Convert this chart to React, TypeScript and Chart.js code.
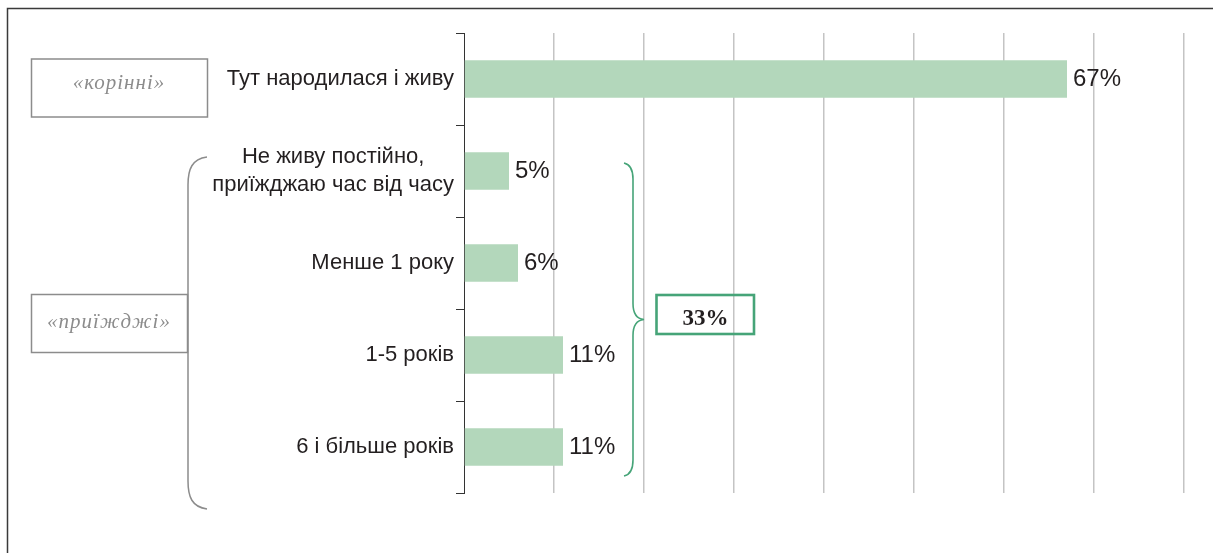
import React, { useEffect, useRef } from "react";
import { Chart, registerables } from "chart.js";

Chart.register(...registerables);

const categories: string[][] = [
  ["Тут народилася і живу"],
  ["Не живу постійно,", "приїжджаю час від часу"],
  ["Менше 1 року"],
  ["1-5 років"],
  ["6 і більше років"],
];
const values = [67, 5, 6, 11, 11];
const axisMax = 80;
const axisStep = 10;
const groupLabels = ["«корінні»", "«приїжджі»"];
const totalLabel = "33%";

const TEXT = "#231f20";
const BAR = "#b3d7bb";
const GREEN = "#46a478";
const GRAY = "#8c8c8c";
const LABEL_FONT = "22px 'Liberation Sans', Arial, sans-serif";
const LINE_H = 28;

const categoryLabelPlugin = {
  id: "categoryLabels",
  afterDraw(chart: any) {
    const ctx = chart.ctx;
    const y = chart.scales.y;
    const right = chart.chartArea.left - 10;
    ctx.save();
    ctx.font = LABEL_FONT;
    ctx.fillStyle = TEXT;
    ctx.textBaseline = "middle";
    categories.forEach((lines, i) => {
      const cy = y.getPixelForValue(i);
      const widths = lines.map((l) => ctx.measureText(l).width);
      const maxW = Math.max(...widths);
      const blockCenter = right - maxW / 2;
      const top = cy - ((lines.length - 1) * LINE_H) / 2;
      lines.forEach((l, j) => {
        if (lines.length === 1) {
          ctx.textAlign = "right";
          ctx.fillText(l, right, top);
        } else {
          ctx.textAlign = "center";
          ctx.fillText(l, blockCenter, top + j * LINE_H);
        }
      });
    });
    ctx.restore();
  },
};

const valueLabelPlugin = {
  id: "valueLabels",
  afterDatasetsDraw(chart: any) {
    const ctx = chart.ctx;
    const meta = chart.getDatasetMeta(0);
    ctx.save();
    ctx.font = "24px 'Liberation Sans', Arial, sans-serif";
    ctx.fillStyle = TEXT;
    ctx.textAlign = "left";
    ctx.textBaseline = "alphabetic";
    meta.data.forEach((bar: any, i: number) => {
      ctx.fillText(values[i] + "%", bar.x + 6, bar.y + 7);
    });
    ctx.restore();
  },
};

const annotationPlugin = {
  id: "annotations",
  afterDraw(chart: any) {
    const ctx = chart.ctx;
    const y = chart.scales.y;
    const c0 = y.getPixelForValue(0);
    const c1 = y.getPixelForValue(1);
    const c4 = y.getPixelForValue(4);
    ctx.save();

    // frame
    ctx.strokeStyle = "#3a3a3a";
    ctx.lineWidth = 1.5;
    ctx.beginPath();
    ctx.moveTo(7.5, 553);
    ctx.lineTo(7.5, 8.5);
    ctx.lineTo(1213, 8.5);
    ctx.stroke();

    // «корінні» box
    ctx.strokeStyle = GRAY;
    ctx.lineWidth = 1.5;
    ctx.strokeRect(31.5, c0 - 20, 176, 58);
    ctx.fillStyle = GRAY;
    ctx.font = "italic 21px 'Liberation Serif', 'Times New Roman', serif";
    try {
      (ctx as any).letterSpacing = "1px";
    } catch (e) {}
    ctx.textAlign = "center";
    ctx.textBaseline = "alphabetic";
    ctx.fillText(groupLabels[0], 119, c0 + 10);

    // left brace
    const bTop = c1 - 14;
    const bBot = c4 + 62;
    ctx.beginPath();
    ctx.moveTo(207, bTop);
    ctx.bezierCurveTo(192, bTop + 2, 188, bTop + 12, 188, bTop + 28);
    ctx.lineTo(188, bBot - 28);
    ctx.bezierCurveTo(188, bBot - 12, 192, bBot - 2, 207, bBot);
    ctx.stroke();

    // «приїжджі» box
    ctx.strokeRect(31.5, 294.5, 156, 58);
    ctx.fillText(groupLabels[1], 109, 328);
    try {
      (ctx as any).letterSpacing = "0px";
    } catch (e) {}

    // right green brace
    const rTop = c1 - 8;
    const rBot = c4 + 29;
    const mid = (rTop + rBot) / 2;
    ctx.strokeStyle = GREEN;
    ctx.lineWidth = 1.6;
    ctx.beginPath();
    ctx.moveTo(624, rTop);
    ctx.quadraticCurveTo(633, rTop + 2, 633, rTop + 16);
    ctx.lineTo(633, mid - 16);
    ctx.quadraticCurveTo(633, mid - 1, 644, mid);
    ctx.quadraticCurveTo(633, mid + 1, 633, mid + 16);
    ctx.lineTo(633, rBot - 16);
    ctx.quadraticCurveTo(633, rBot - 2, 624, rBot);
    ctx.stroke();

    // 33% box
    ctx.lineWidth = 2.6;
    ctx.strokeRect(656.5, 295, 97.5, 39);
    ctx.fillStyle = TEXT;
    ctx.font = "bold 23px 'Liberation Serif', 'Times New Roman', serif";
    ctx.textAlign = "center";
    ctx.textBaseline = "alphabetic";
    ctx.fillText(totalLabel, 705.5, 325);

    ctx.restore();
  },
};

export default function App() {
  const ref = useRef<HTMLCanvasElement | null>(null);
  useEffect(() => {
    if (!ref.current) return;
    const chart = new Chart(ref.current, {
      type: "bar",
      data: {
        labels: categories.map((c) => c.join(" ")),
        datasets: [
          {
            data: values,
            backgroundColor: BAR,
            borderWidth: 0,
            categoryPercentage: 1,
            barPercentage: 0.41,
          },
        ],
      },
      options: {
        indexAxis: "y",
        responsive: false,
        animation: false,
        devicePixelRatio: 1,
        layout: { padding: { left: 0, right: 29, top: 33, bottom: 60 } },
        plugins: { legend: { display: false }, tooltip: { enabled: false } },
        scales: {
          x: {
            min: 0,
            max: axisMax,
            ticks: { display: false, stepSize: axisStep },
            border: { display: false },
            grid: {
              drawTicks: false,
              lineWidth: 1.5,
              color: (c: any) => (c.index === 0 ? "rgba(0,0,0,0)" : "#c4c4c4"),
            },
            afterFit: (s: any) => {
              s.height = 0;
            },
          },
          y: {
            border: { display: true, color: "#333", width: 1 },
            grid: {
              drawOnChartArea: false,
              drawTicks: true,
              tickLength: 8,
              color: "#333",
              lineWidth: 1,
              offset: true,
            },
            ticks: { display: false },
            afterFit: (s: any) => {
              s.width = 464;
            },
          },
        },
      },
      plugins: [categoryLabelPlugin, valueLabelPlugin, annotationPlugin],
    });
    return () => chart.destroy();
  }, []);
  return (
    <div style={{ position: "fixed", left: 0, top: 0, width: 1213, height: 553, background: "#fff" }}>
      <canvas ref={ref} width={1213} height={553} style={{ display: "block" }} />
    </div>
  );
}
